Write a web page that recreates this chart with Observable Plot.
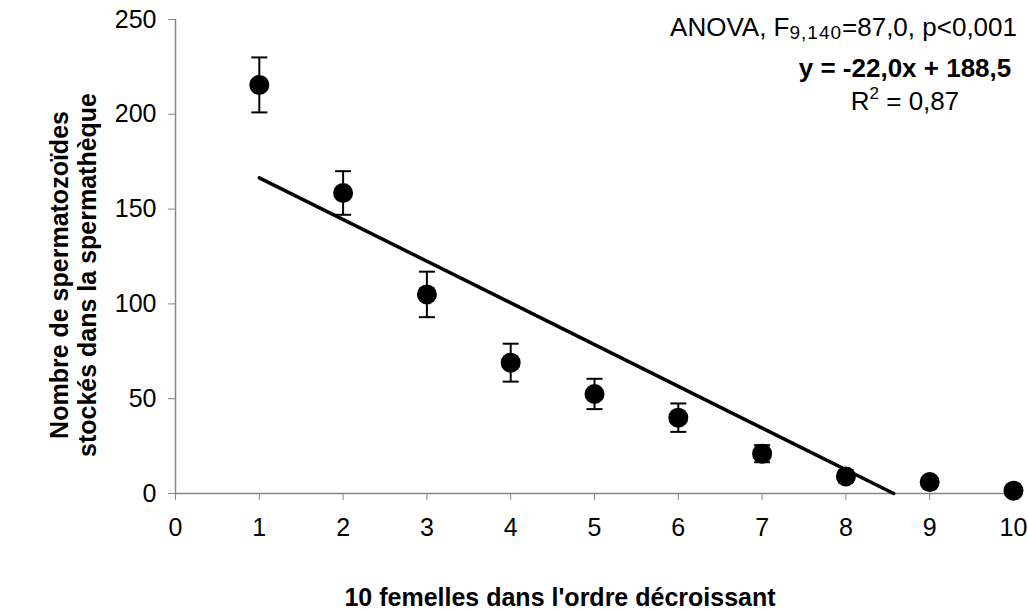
<!DOCTYPE html>
<html><head><meta charset="utf-8">
<script src="https://cdn.jsdelivr.net/npm/d3@7"></script>
<script src="https://cdn.jsdelivr.net/npm/@observablehq/plot@0.6"></script>
<style>body{margin:0;background:#fff}</style>
</head><body><div id="chart"></div>
<script>
// ---- data ----
const females = [1, 2, 3, 4, 5, 6, 7, 8, 9, 10];
const spermCount = [215.5, 158.5, 105, 69, 52.5, 40, 21, 9, 6, 1.5];
const errorSE = [14.5, 11.5, 12, 10, 8, 7.5, 4.5, 3, 2, 1];
const trendX = [1, 8.57];
const trendY = [166.5, 0];
const xTicks = [0, 1, 2, 3, 4, 5, 6, 7, 8, 9, 10];
const yTicks = [0, 50, 100, 150, 200, 250];
const xTitle = "10 femelles dans l'ordre décroissant";
const yTitleLines = ["Nombre de spermatozoïdes", "stockés dans la spermathèque"];

const data = females.map((x, i) => ({x, y: spermCount[i], e: errorSE[i]}));
const trend = trendX.map((x, i) => ({x, y: trendY[i]}));

const FONT = "'Liberation Sans', Arial, Helvetica, sans-serif";
const capSymbol = {draw(ctx) { ctx.moveTo(-8, 0); ctx.lineTo(8, 0); }};

const svg = Plot.plot({
  width: 1028, height: 612,
  marginLeft: 175, marginRight: 15, marginTop: 19, marginBottom: 119,
  style: {fontFamily: FONT, fontSize: "25px", color: "black", background: "white"},
  x: {domain: [0, 10], ticks: xTicks, label: null},
  y: {domain: [0, 250], ticks: yTicks, label: null},
  marks: [
    Plot.ruleY([0], {stroke: "#868686", strokeWidth: 1.5}),
    Plot.ruleX([0], {stroke: "#868686", strokeWidth: 1.5}),
    Plot.axisX({ticks: xTicks, tickSize: 7, tickPadding: 18, stroke: "#868686", fill: "black", tickFormat: d => String(d), label: null}),
    Plot.axisY({ticks: yTicks, tickSize: 7, tickPadding: 12, stroke: "#868686", fill: "black", tickFormat: d => String(d), label: null}),
    Plot.line(trend, {x: "x", y: "y", stroke: "black", strokeWidth: 3.5}),
    Plot.ruleX(data, {x: "x", y1: d => d.y - d.e, y2: d => d.y + d.e, stroke: "black", strokeWidth: 2}),
    Plot.dot(data, {x: "x", y: d => d.y + d.e, symbol: capSymbol, stroke: "black", strokeWidth: 2, fill: "none"}),
    Plot.dot(data, {x: "x", y: d => d.y - d.e, symbol: capSymbol, stroke: "black", strokeWidth: 2, fill: "none"}),
    Plot.dot(data, {x: "x", y: "y", r: 10, fill: "black", stroke: "none"})
  ]
});
document.getElementById("chart").appendChild(svg);

const s = d3.select(svg);
// x title
s.append("text").attr("x", 560).attr("y", 606).attr("text-anchor", "middle")
  .attr("font-weight", "bold").attr("font-size", 25).attr("font-family", FONT).text(xTitle);
// y title
yTitleLines.forEach((t, i) => {
  s.append("text").attr("transform", `translate(${68 + i * 28},275) rotate(-90)`)
    .attr("text-anchor", "middle").attr("font-weight", "bold").attr("font-size", 25)
    .attr("font-family", FONT).text(t);
});
// annotations
const a1 = s.append("text").attr("x", 1017).attr("y", 36).attr("text-anchor", "end")
  .attr("font-size", 26).attr("font-family", FONT);
a1.append("tspan").text("ANOVA, F");
a1.append("tspan").attr("font-size", 19).attr("letter-spacing", 1).attr("dy", 3).text("9,140");
a1.append("tspan").attr("dy", -3).text("=87,0, p<0,001");
s.append("text").attr("x", 905).attr("y", 77).attr("text-anchor", "middle")
  .attr("font-size", 26).attr("font-weight", "bold").attr("font-family", FONT)
  .text("y = -22,0x + 188,5");
const a3 = s.append("text").attr("x", 905).attr("y", 110).attr("text-anchor", "middle")
  .attr("font-size", 26).attr("font-family", FONT);
a3.append("tspan").text("R");
a3.append("tspan").attr("font-size", 17).attr("dy", -11).text("2");
a3.append("tspan").attr("dy", 11).text(" = 0,87");
</script></body></html>
